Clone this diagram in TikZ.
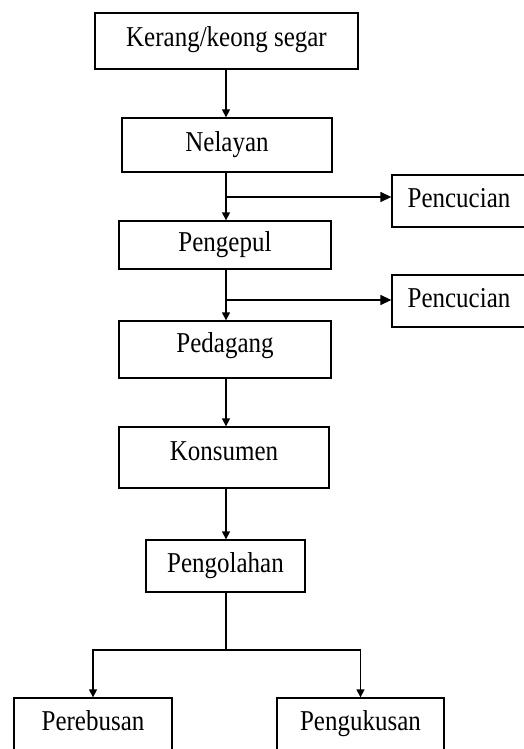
\documentclass[tikz,border=0pt]{standalone}
\usepackage{graphicx}
\usepackage{fontspec}
\setmainfont{Liberation Serif}
\usetikzlibrary{arrows.meta}
\newcommand{\tx}[1]{\scalebox{1}[1.15]{#1}}
\begin{document}
\begin{tikzpicture}[x=1pt,y=-1pt,
  box/.style={draw, line width=1.3pt, rectangle, inner sep=0pt, text height=18pt, text depth=6pt, font=\fontsize{25}{30}\selectfont},
  hi/.style={text height=15pt, text depth=9pt},
  down/.style={line width=1.3pt, -{Triangle[length=8pt,width=8pt]}},
  side/.style={line width=1.3pt, -{Triangle[length=11pt,width=10pt]}},
  plain/.style={line width=1.3pt}]
\useasboundingbox (0,0) rectangle (524,749);
\clip (0,0) rectangle (524,749);
\fill[white] (0,0) rectangle (524,749);
\node[box, minimum width=263pt, minimum height=56pt] (k)  at (226.5,41)  {\tx{Kerang/keong segar}};
\node[box, minimum width=210pt, minimum height=54pt] (n)  at (227,145)   {\tx{Nelayan}};
\node[box, minimum width=212pt, minimum height=48pt] (pg) at (225,245)   {\tx{Pengepul}};
\node[box, hi, minimum width=212pt, minimum height=57pt] (pd) at (225,349.5) {\tx{Pedagang}};
\node[box, hi, minimum width=210pt, minimum height=61pt] (ks) at (224,457.5) {\tx{Konsumen}};
\node[box, minimum width=159pt, minimum height=52pt] (po) at (225.5,566) {\tx{Pengolahan}};
\node[box, minimum width=134pt, minimum height=52pt] (c1) at (459,201)   {\tx{Pencucian}};
\node[box, minimum width=134pt, minimum height=52pt] (c2) at (459,301)   {\tx{Pencucian}};
\node[box, hi, minimum width=158pt, minimum height=58pt] (pr) at (93,727)    {\tx{Perebusan}};
\node[box, hi, minimum width=167pt, minimum height=58pt] (pk) at (360.5,727) {\tx{Pengukusan}};
\coordinate (sx) at (226,0);
\coordinate (b1) at (226,197);
\coordinate (b2) at (226,300);
\coordinate (b3) at (226,650);
\draw[down] (k.south -| sx) -- (n.north -| sx);
\draw[down] (n.south -| sx) -- (pg.north -| sx);
\draw[side] (b1) -- (b1 -| c1.west);
\draw[down] (pg.south -| sx) -- (pd.north -| sx);
\draw[side] (b2) -- (b2 -| c2.west);
\draw[down] (pd.south -| sx) -- (ks.north -| sx);
\draw[down] (ks.south -| sx) -- (po.north -| sx);
\draw[plain] (po.south -| sx) -- (b3);
\draw[down] (b3) -| (pr.north);
\draw[down] (b3) -| (pk.north);
\end{tikzpicture}
\end{document}
